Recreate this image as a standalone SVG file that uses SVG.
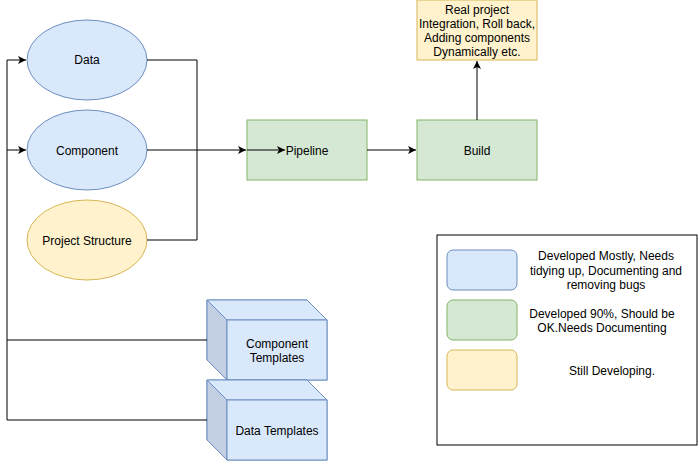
<svg xmlns="http://www.w3.org/2000/svg" width="698" height="461" viewBox="0 0 698 461">
<style>
text{font-family:"Liberation Sans",Arial,sans-serif;font-size:12px;fill:#000;text-anchor:middle}
.blue{fill:#dae8fc;stroke:#6c8ebf}
.green{fill:#d5e8d4;stroke:#82b366}
.yellow{fill:#fff2cc;stroke:#d6b656}
.edge{fill:none;stroke:#000;stroke-width:1}
</style>
<defs>
<marker id="arr" markerWidth="10" markerHeight="10" refX="8" refY="4" orient="auto" markerUnits="userSpaceOnUse">
<path d="M0,0 L8,4 L0,8 L2,4 Z" fill="#000"/>
</marker>
</defs>
<rect width="698" height="461" fill="#fff"/>
<g id="data">
<ellipse class="blue" cx="87" cy="60" rx="60" ry="40"/>
<text x="87" y="64">Data</text>
</g>
<g id="component">
<ellipse class="blue" cx="87" cy="150" rx="60" ry="40"/>
<text x="87" y="155">Component</text>
</g>
<g id="project-structure">
<ellipse class="yellow" cx="87" cy="240" rx="60" ry="40"/>
<text x="87" y="245">Project Structure</text>
</g>
<g id="pipeline">
<rect class="green" x="247" y="120" width="120" height="60"/>
<text x="307" y="155">Pipeline</text>
</g>
<g id="build">
<rect class="green" x="417" y="120" width="120" height="60"/>
<text x="477" y="155">Build</text>
</g>
<g id="real-project">
<rect class="yellow" x="417" y="0" width="120" height="60"/>
<text x="477" y="14">Real project</text>
<text x="477" y="28">Integration, Roll back,</text>
<text x="477" y="42">Adding components</text>
<text x="477" y="56">Dynamically etc.</text>
</g>
<g id="component-templates">
<path class="blue" d="M207,300 H307 L327,320 V380 H227 L207,360 Z"/>
<path d="M207,300 L227,320 V380 L207,360 Z" fill="#c3cfe2" stroke="#6c8ebf"/>
<path d="M207,300 H307 L327,320 H227 Z" fill="#dae8fc" stroke="#6c8ebf"/>
<rect class="blue" x="227" y="320" width="100" height="60"/>
<text x="277" y="348">Component</text>
<text x="277" y="362">Templates</text>
</g>
<g id="data-templates">
<path class="blue" d="M207,380 H307 L327,400 V460 H227 L207,440 Z"/>
<path d="M207,380 L227,400 V460 L207,440 Z" fill="#c3cfe2" stroke="#6c8ebf"/>
<path d="M207,380 H307 L327,400 H227 Z" fill="#dae8fc" stroke="#6c8ebf"/>
<rect class="blue" x="227" y="400" width="100" height="60"/>
<text x="277" y="435">Data Templates</text>
</g>
<g id="legend">
<rect x="437" y="235" width="260" height="210" fill="#fff" stroke="#000"/>
<rect class="blue" x="447" y="250" width="70" height="40" rx="6"/>
<rect class="green" x="447" y="300" width="70" height="40" rx="6"/>
<rect class="yellow" x="447" y="350" width="70" height="40" rx="6"/>
<text x="606" y="260">Developed Mostly, Needs</text>
<text x="606" y="275">tidying up, Documenting and</text>
<text x="606" y="289">removing bugs</text>
<text x="602" y="318">Developed 90%, Should be</text>
<text x="602" y="332">OK.Needs Documenting</text>
<text x="612" y="375">Still Developing.</text>
</g>
<g id="connectors">
<path class="edge" d="M147,60 H197 V150"/>
<path class="edge" d="M147,240 H197 V150"/>
<path class="edge" d="M147,150 H246" marker-end="url(#arr)"/>
<path class="edge" d="M247,150 H285" marker-end="url(#arr)"/>
<path class="edge" d="M367,150 H416" marker-end="url(#arr)"/>
<path class="edge" d="M477,120 V61" marker-end="url(#arr)"/>
<path class="edge" d="M7,420 V60 H26" marker-end="url(#arr)"/>
<path class="edge" d="M7,150 H26" marker-end="url(#arr)"/>
<path class="edge" d="M207,340 H7"/>
<path class="edge" d="M207,420 H7"/>
</g>
</svg>
